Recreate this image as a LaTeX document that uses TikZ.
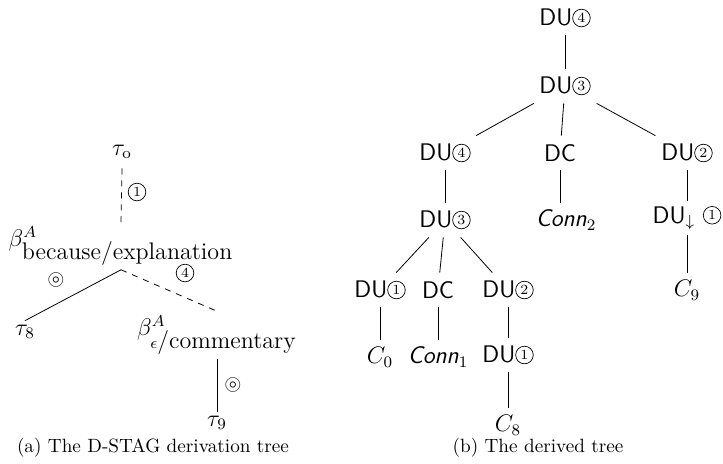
\documentclass[tikz,border=0pt]{standalone}
\usepackage{amssymb}
\newcommand{\cn}[1]{\tikz[baseline={([yshift=0.6pt]cn.south)}]\node[draw,circle,line width=0.35pt,minimum size=8.8pt,inner sep=0pt,font=\fontsize{7}{7}\selectfont\rmfamily](cn){#1};}
\begin{document}
\begin{tikzpicture}[x=0.5pt,y=-0.5pt,
  ln/.style={font=\fontsize{12}{14}\selectfont, inner sep=2pt},
  rn/.style={font=\fontsize{12}{14}\selectfont\sffamily, minimum height=17pt, inner xsep=6pt, inner ysep=0pt},
  lab/.style={font=\fontsize{11}{13}\selectfont, inner sep=0pt},
  captext/.style={font=\fontsize{9.6}{11}\selectfont, inner sep=0pt},
  dedge/.style={dashed, thin},
  sedge/.style={thin}]
\useasboundingbox (0,0) rectangle (723,463);
% ---- (a) derivation tree
\node[ln, inner ysep=4.5pt] (t0) at (122,152) {$\tau_{\mathrm{o}}$};
\node[ln] (b1) at (121,246) {$\beta^{A}_{\mbox{because/explanation}}$};
\node[ln] (t8) at (25,332) {$\tau_{8}$};
\node[ln] (b2) at (217,335) {$\beta^{A}_{\epsilon\mbox{/commentary}}$};
\node[ln] (t9) at (217,423) {$\tau_{9}$};
\draw[dedge] (t0.south) -- (b1.north);
\draw[sedge] (b1.south) -- (t8.north);
\draw[dedge] (b1.south) -- (b2.north);
\draw[sedge] (b2.south) -- (t9.north);
\node[lab] (l1) at (137,192) {\cn{1}};
\node[lab] (l2) at (56,280) {$\circledcirc$};
\node[lab] (l3) at (185,273) {\cn{4}};
\node[lab] (l4) at (233,385) {$\circledcirc$};
\node[captext] (capa) at (153,448) {(a) The D-STAG derivation tree};
% ---- (b) derived tree
\node[rn] (r0) at (565,18) {DU\cn{4}};
\node[rn] (r1) at (565,86) {DU\cn{3}};
\node[rn] (a1) at (445,153) {DU\cn{4}};
\node[rn] (a2) at (560,153) {DC};
\node[rn] (a3) at (687,153) {DU\cn{2}};
\node[rn] (b11) at (445,220) {DU\cn{3}};
\node[rn] (b21) at (566,220) {\textit{Conn}$_2$};
\node[rn] (b31) at (687,218) {DU$_{\downarrow}$\ \cn{1}};
\node[rn] (c1) at (380,290) {DU\cn{1}};
\node[rn] (c2) at (438,290) {DC};
\node[rn] (c3) at (508,290) {DU\cn{2}};
\node[rn] (c4) at (687,290) {$C_9$};
\node[rn] (d1) at (380,357) {$C_0$};
\node[rn] (d2) at (438,357) {\textit{Conn}$_1$};
\node[rn] (d3) at (508,355) {DU\cn{1}};
\node[rn] (e3) at (508,425) {$C_8$};
\draw[sedge] (r0) -- (r1);
\draw[sedge] (r1) -- (a1);
\draw[sedge] (r1) -- (a2);
\draw[sedge] (r1) -- (a3);
\draw[sedge] (a1) -- (b11);
\draw[sedge] (a2) -- (a2 |- b21.north);
\draw[sedge] (a3) -- (b31);
\draw[sedge] (b31) -- (c4);
\draw[sedge] (b11) -- (c1);
\draw[sedge] (b11) -- (c2);
\draw[sedge] (b11) -- (c3);
\draw[sedge] (c1) -- (d1);
\draw[sedge] (c2) -- (d2);
\draw[sedge] (c3) -- (d3);
\draw[sedge] (d3) -- (e3);
\node[captext] (capb) at (538,448) {(b) The derived tree};
\end{tikzpicture}
\end{document}
